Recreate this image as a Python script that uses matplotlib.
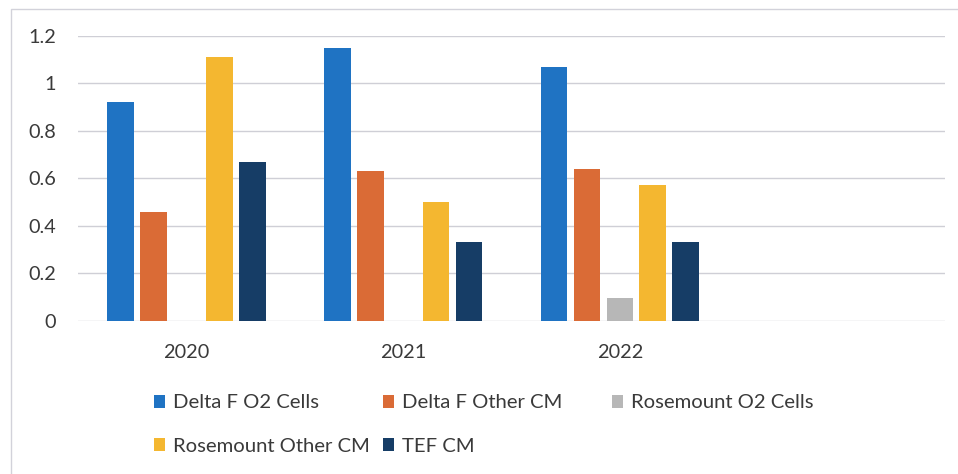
import matplotlib
matplotlib.use("Agg")
import matplotlib.pyplot as plt
from matplotlib.patches import Patch, Rectangle
import numpy as np

plt.rcParams['font.family'] = ['Lato', 'DejaVu Sans']

years = ['2020', '2021', '2022', '']
series = ['Delta F O2 Cells', 'Delta F Other CM', 'Rosemount O2 Cells',
          'Rosemount Other CM', 'TEF CM']
delta_o2 = [0.92, 1.15, 1.07, 0]
delta_other = [0.46, 0.63, 0.64, 0]
rose_o2 = [0, 0, 0.095, 0]
rose_other = [1.11, 0.50, 0.57, 0]
tef = [0.67, 0.33, 0.33, 0]
values = [delta_o2, delta_other, rose_o2, rose_other, tef]
colors = ['#1F73C3', '#DA6B36', '#B7B7B7', '#F4B730', '#163D66']
text_color = '#3A3A3A'

W, H = 958, 474
fig = plt.figure(figsize=(W / 100, H / 100), dpi=100)
ax = fig.add_axes([78 / W, 1 - 320.7 / H, 867 / W, 284.7 / H])

x = np.arange(len(years))
step = 0.152
for i, (vals, c) in enumerate(zip(values, colors)):
    ax.bar(x + (i - 2) * step, vals, width=0.123, color=c, zorder=3)

ax.set_xlim(-0.5, 3.5)
ax.set_ylim(0, 1.2)
ax.set_yticks(np.arange(0, 1.21, 0.2))
ax.set_yticklabels(['0', '0.2', '0.4', '0.6', '0.8', '1', '1.2'])
ax.set_xticks(x)
ax.set_xticklabels(years)
ax.tick_params(length=0, labelsize=14.3, colors=text_color)
ax.tick_params(axis='y', pad=16)
ax.tick_params(axis='x', pad=17)
ax.grid(axis='y', color='#CFCFD6', linewidth=1.0, zorder=0)
for s in ax.spines.values():
    s.set_visible(False)

# chart border (only left and top edges visible in the scan)
fig.patches.append(Rectangle((11 / W, -0.1), 1.2, 0.1 + (1 - 9 / H),
                             transform=fig.transFigure, fill=False,
                             edgecolor='#D2D2DA', linewidth=1.0))

# legend laid out in fixed-width columns like the original
col_x = [154, 383, 612]
row_y = [403, 446]
for k, (name, c) in enumerate(zip(series, colors)):
    px = col_x[k % 3]
    py = row_y[k // 3]
    fig.legend(handles=[Patch(facecolor=c)], labels=[name],
               loc='center left', bbox_to_anchor=(px / W, 1 - py / H),
               frameon=False, fontsize=14.6, labelcolor=text_color,
               handlelength=0.55, handleheight=0.65, handletextpad=0.38,
               borderpad=0, borderaxespad=0)

fig.savefig('out.png', dpi=100)
